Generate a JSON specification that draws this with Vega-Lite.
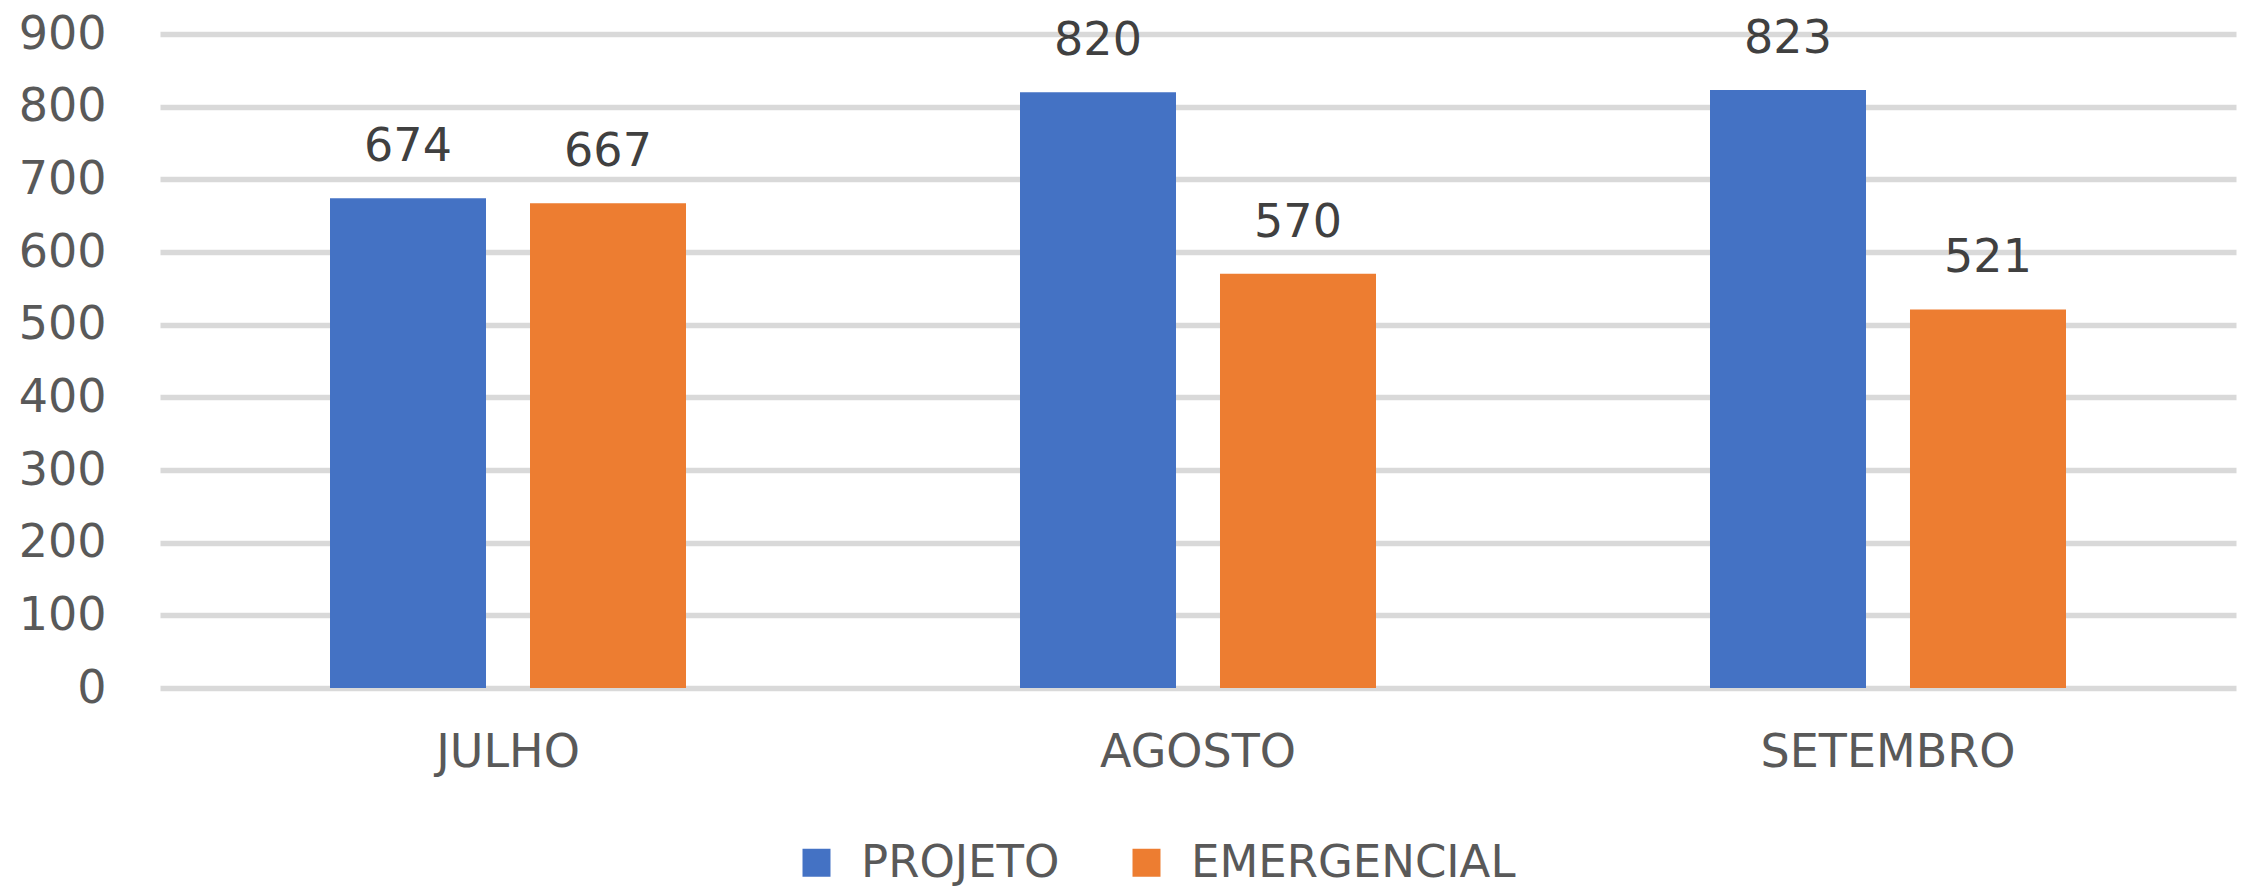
{
  "$schema": "https://vega.github.io/schema/vega-lite/v6.json",
  "autosize": {"type": "none"},
  "padding": {"left": 160, "top": 34, "right": 28, "bottom": 198},
  "width": 2076,
  "height": 654,
  "background": "white",
  "config": {"view": {"stroke": null}},
  "data": {
    "values": [
      {"mes": "JULHO", "serie": "PROJETO", "valor": 674},
      {"mes": "JULHO", "serie": "EMERGENCIAL", "valor": 667},
      {"mes": "AGOSTO", "serie": "PROJETO", "valor": 820},
      {"mes": "AGOSTO", "serie": "EMERGENCIAL", "valor": 570},
      {"mes": "SETEMBRO", "serie": "PROJETO", "valor": 823},
      {"mes": "SETEMBRO", "serie": "EMERGENCIAL", "valor": 521}
    ]
  },
  "encoding": {
    "x": {
      "field": "mes",
      "type": "nominal",
      "sort": ["JULHO", "AGOSTO", "SETEMBRO"],
      "scale": {"paddingInner": 0.48406, "paddingOuter": 0.24638},
      "axis": {
        "title": null,
        "labelAngle": 0,
        "domain": false,
        "ticks": false,
        "labelFont": "DejaVu Sans",
        "labelFontSize": 46,
        "labelColor": "#595959",
        "labelPadding": 42,
        "labelBaseline": "top",
        "labelLimit": 0
      }
    },
    "xOffset": {
      "field": "serie",
      "type": "nominal",
      "sort": ["PROJETO", "EMERGENCIAL"],
      "scale": {"paddingInner": 0.22, "paddingOuter": 0}
    },
    "y": {
      "field": "valor",
      "type": "quantitative",
      "scale": {"domain": [0, 900], "nice": false},
      "axis": {
        "title": null,
        "values": [0, 100, 200, 300, 400, 500, 600, 700, 800, 900],
        "domain": false,
        "ticks": false,
        "grid": true,
        "gridColor": "#d9d9d9",
        "gridWidth": 5.5,
        "labelFont": "DejaVu Sans",
        "labelFontSize": 46,
        "labelColor": "#595959",
        "labelPadding": 54
      }
    }
  },
  "layer": [
    {
      "mark": {"type": "bar"},
      "encoding": {
        "color": {
          "field": "serie",
          "type": "nominal",
          "scale": {"domain": ["PROJETO", "EMERGENCIAL"], "range": ["#4472C4", "#ED7D31"]},
          "legend": {
            "title": null,
            "orient": "none",
            "direction": "horizontal",
            "legendX": 634,
            "legendY": 806,
            "symbolType": "square",
            "symbolSize": 784,
            "symbolStrokeWidth": 0,
            "labelFont": "DejaVu Sans",
            "labelFontSize": 45,
            "labelColor": "#595959",
            "labelOffset": 22,
            "labelLimit": 0,
            "columnPadding": 64
          }
        }
      }
    },
    {
      "mark": {
        "type": "text",
        "baseline": "alphabetic",
        "dy": -37,
        "font": "DejaVu Sans",
        "fontSize": 46,
        "color": "#404040"
      },
      "encoding": {
        "text": {"field": "valor", "type": "quantitative"}
      }
    }
  ]
}
